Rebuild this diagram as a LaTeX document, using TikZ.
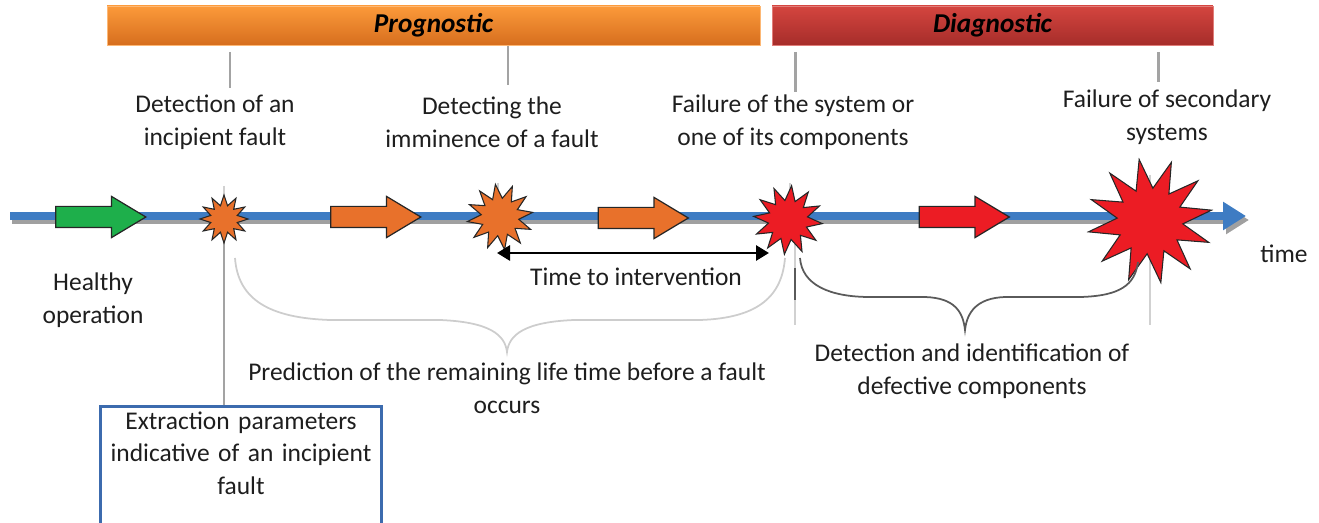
\documentclass[tikz,border=0pt]{standalone}
\usepackage{fontspec}
\setmainfont{Carlito}
\usepackage{tikz}
\usetikzlibrary{positioning,shapes.geometric,shapes.arrows,arrows.meta}
\definecolor{tlblue}{HTML}{3E7CC3}
\definecolor{tlshadow}{HTML}{A0A0A0}
\definecolor{healthgreen}{HTML}{1EAF4B}
\definecolor{warnorange}{HTML}{E8712B}
\definecolor{failred}{HTML}{EC1C24}
\definecolor{progtop}{HTML}{FC9A3A}
\definecolor{progbot}{HTML}{D66E1E}
\definecolor{diagtop}{HTML}{D4453F}
\definecolor{diagbot}{HTML}{A62D2A}
\definecolor{boxblue}{HTML}{3C6BAE}
\definecolor{txtdark}{HTML}{1E1E1E}
\definecolor{tickgray}{HTML}{A3A3A3}
\definecolor{bracelight}{HTML}{CDCDCD}
\definecolor{bracedark}{HTML}{5A5A5A}

\begin{document}
\begin{tikzpicture}[x=0.02cm, y=-0.02cm,
  phasebar/.style={rectangle, minimum height=0.78cm, inner sep=0pt, line width=0.4pt,
    font=\fontsize{15.5}{18}\selectfont\bfseries\itshape, text=black},
  tickline/.style={line width=1.7pt, draw=tickgray},
  tltext/.style={font=\fontsize{14.5}{18.7}\selectfont, text=txtdark, align=center},
  fwdarrow/.style={single arrow, draw=black!85, line width=0.7pt, minimum height=1.8cm,
    minimum width=0.8cm, single arrow head extend=0.2cm, single arrow tip angle=62,
    inner xsep=0pt, inner ysep=0.2cm},
  burst/.style={star, star points=12, star point ratio=1.75, draw=black!85, line width=0.6pt, inner sep=0pt},
  faintline/.style={line width=0.8pt, draw=black!18},
  xbox/.style={rectangle, draw=boxblue, line width=1.7pt, fill=white, minimum width=5.64cm,
    text width=5.4cm, inner ysep=0.1cm, text depth=2.2cm, tltext},
]
\useasboundingbox (0,0) rectangle (1319,523);

% phase bars
\node[phasebar, top color=progtop, bottom color=progbot, draw=progtop!70!white,
  minimum width=13.06cm] (prog) at (433.5,25.5) {Prognostic};
\node[phasebar, top color=diagtop, bottom color=diagbot, draw=diagtop!70!white,
  minimum width=8.82cm] (diag) at (992.5,25.5) {Diagnostic};
% ticks under the bars
\foreach \tx/\ta/\tb in {230/52/88, 508/46/85, 795/52/92, 1158/52/82}
  \draw[tickline] (\tx,\ta) -- (\tx,\tb);

% event labels
\node[tltext] (lb-detect) at (215,122) {Detection of an\\incipient fault};
\node[tltext] (lb-immin)  at (492,122) {Detecting the\\imminence of a fault};
\node[tltext] (lb-fail)   at (793,122) {Failure of the system or\\one of its components};
\node[tltext] (lb-second) at (1167,117) {Failure of secondary\\systems};

% time axis (shadow, then blue)
\coordinate (tl-start) at (10,216);
\coordinate (tl-end) at (1246,216);
\draw[line width=0.16cm, tlshadow, -{Triangle[length=0.46cm,width=0.54cm]}]
  ([shift={(2,4)}]tl-start) -- ([shift={(3,4)}]tl-end);
\draw[line width=0.16cm, tlblue, -{Triangle[length=0.46cm,width=0.54cm]}] (tl-start) -- (tl-end);
\node[tltext] (lb-time) at (1284,254) {time};

% thin guide lines behind the bursts
\draw[faintline] (498,183) -- (498,216);
\draw[faintline] (790,183) -- (790,216);
\draw[faintline] (795,232) -- (795,325);
\draw[faintline] (1150,175) -- (1150,325);
\draw[line width=1.2pt, draw=bracedark] (795,268) -- (795,300);

% extraction box and its link to the first burst
\node[xbox, anchor=north] (xbox) at (241,405) {Extraction parameters\\indicative of an incipient\\fault};
\coordinate (s1-top) at (224,186);
\coordinate (s1-mid) at (224,216);
\draw[faintline] (s1-top) -- (s1-mid);
\draw[tickline] (s1-mid) -- (s1-mid |- xbox.north);

% arrows along the axis
\node[fwdarrow, fill=healthgreen] (go-health) at (92,217) {};
\node[fwdarrow, fill=warnorange]  (go-warn1)  at (367,217) {};
\node[fwdarrow, fill=warnorange]  (go-warn2)  at (634.5,218) {};
\node[fwdarrow, fill=failred]     (go-fail)   at (955.5,217) {};

% bursts
\node[burst, fill=warnorange, minimum size=0.96cm] (burst-inc) at (224,219) {};
\node[burst, fill=warnorange, minimum size=1.32cm, shape border rotate=8] (burst-imm) at (500,217) {};
\node[burst, fill=failred, minimum size=1.38cm, shape border rotate=-6] (burst-sys) at (788,220) {};
\node[burst, fill=failred, minimum size=2.5cm, star point ratio=1.9, shape border rotate=10] (burst-sec) at (1150,221) {};

\node[tltext] (lb-health) at (93,300) {Healthy\\operation};

% time to intervention
\coordinate (ti-left) at (497,253);
\coordinate (ti-right) at (769,253);
\draw[line width=1.6pt, {Triangle[length=0.26cm,width=0.3cm]}-{Triangle[length=0.26cm,width=0.3cm]}]
  (ti-left) -- (ti-right);
\node[tltext] (lb-interv) at (636,277) {Time to intervention};

% prognostic brace (light)
\draw[line width=1pt, bracelight]
  (235,258) .. controls (238,300) and (270,318) .. (330,320) -- (440,320)
  .. controls (490,322) and (505,335) .. (507,352)
  .. controls (509,335) and (524,322) .. (574,320) -- (700,320)
  .. controls (760,318) and (782,295) .. (785,258);
\node[tltext] (lb-predict) at (507,388) {Prediction of the remaining life time before a fault\\occurs};

% diagnostic brace (dark)
\draw[line width=1pt, bracedark]
  (800,258) .. controls (802,285) and (830,297) .. (870,297) -- (925,297)
  .. controls (955,298) and (963,312) .. (965,330)
  .. controls (967,312) and (977,298) .. (1005,297) -- (1080,297)
  .. controls (1120,296) and (1135,285) .. (1138,262);
\node[tltext] (lb-identify) at (972,371) {Detection and identification of\\defective components};
\end{tikzpicture}
\end{document}
